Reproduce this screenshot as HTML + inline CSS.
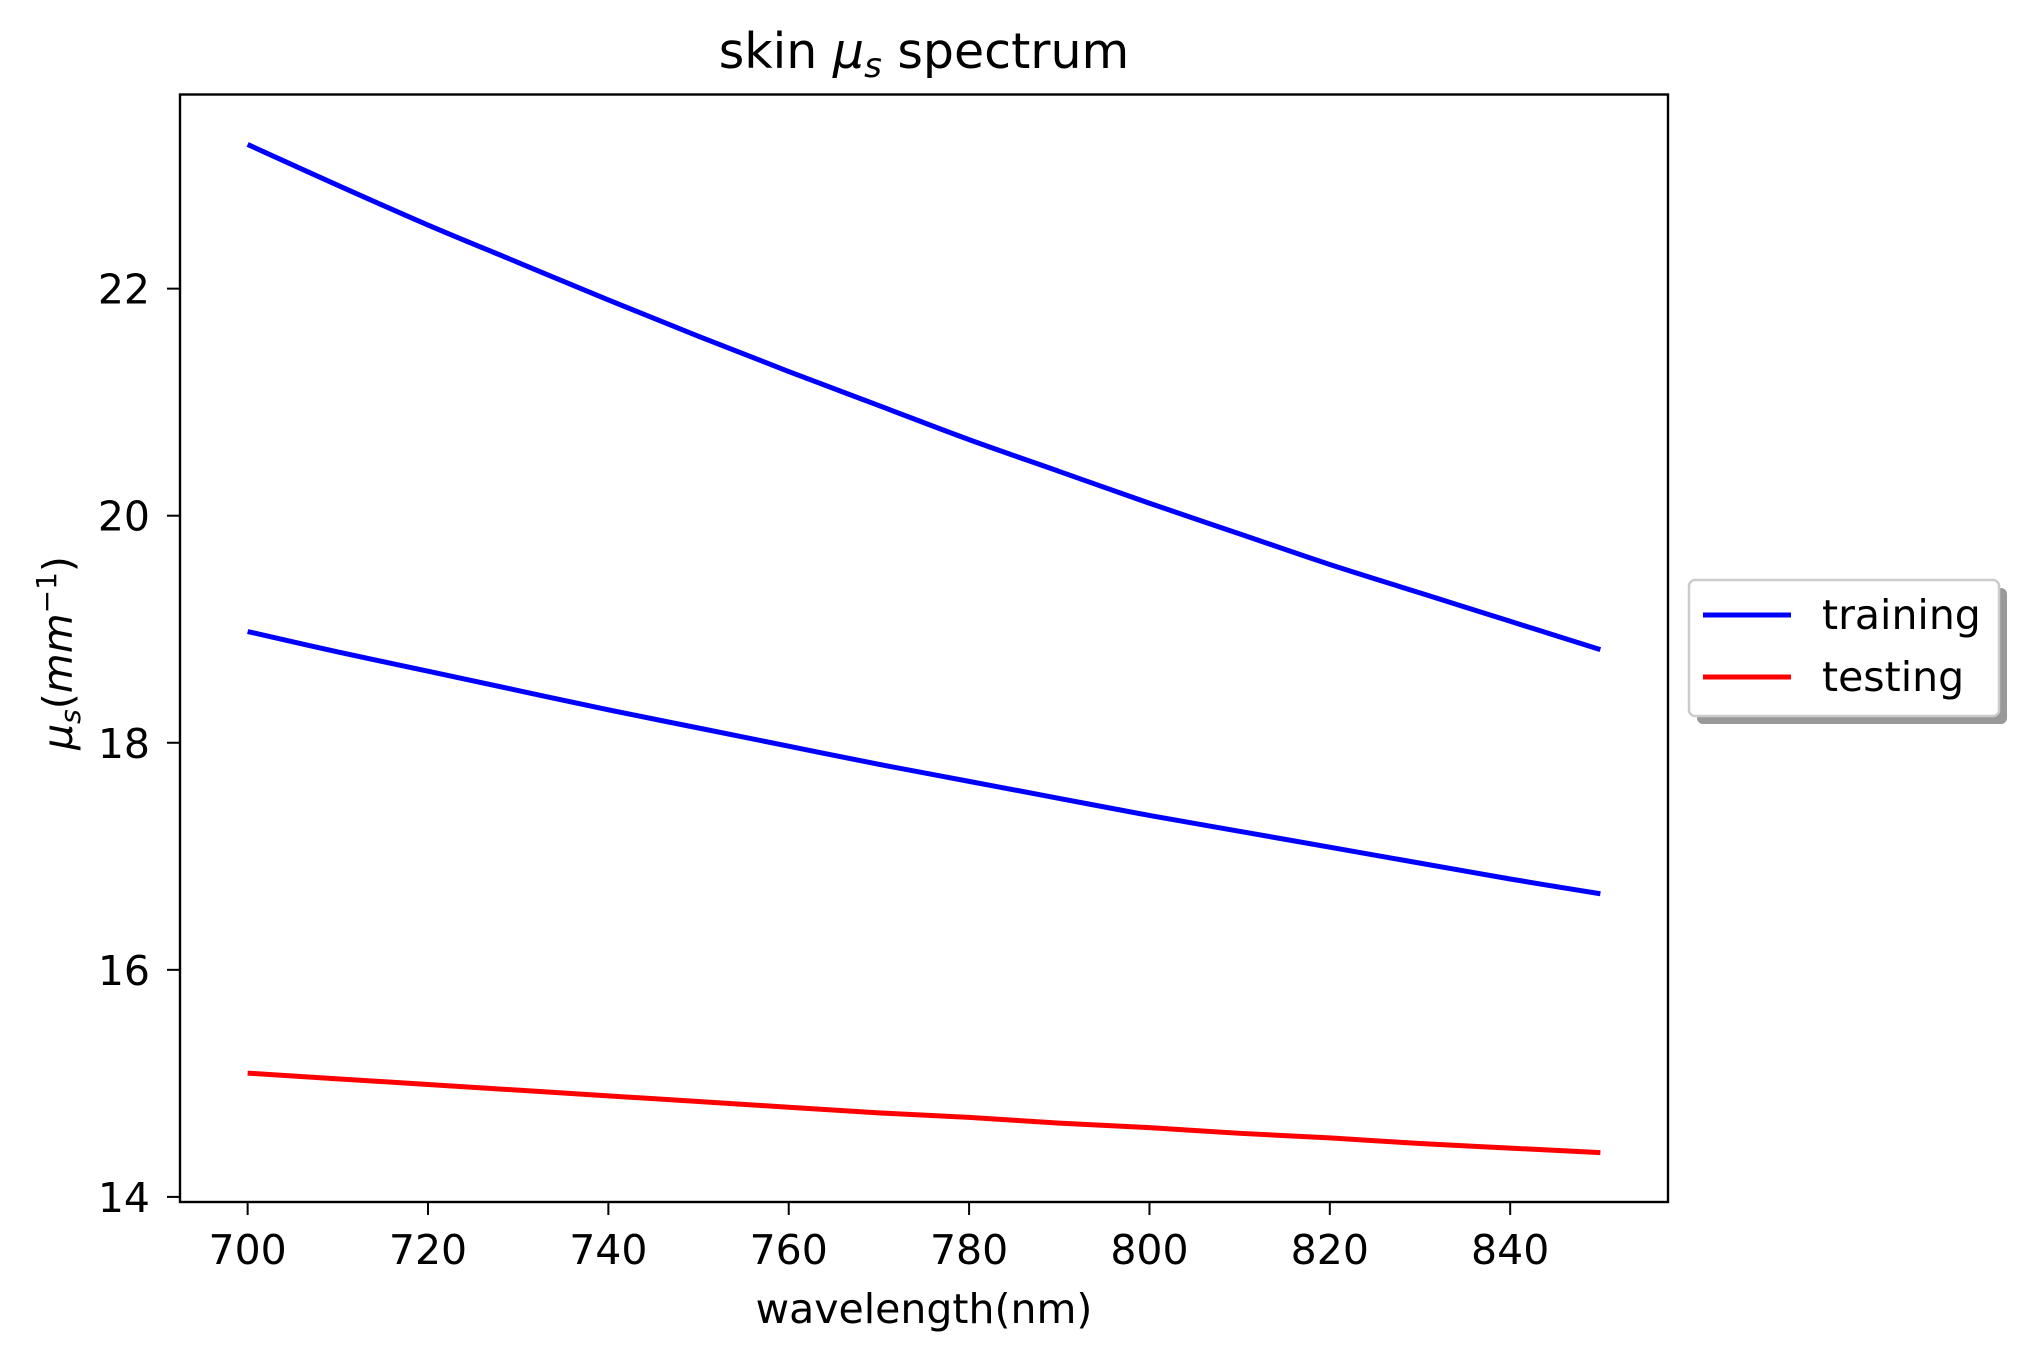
<!DOCTYPE html>
<html><head><meta charset="utf-8"><style>
html,body{margin:0;padding:0;background:#fff;}
svg{display:block;font-family:"DejaVu Sans","Liberation Sans",sans-serif;}
</style></head><body>
<svg id="chart" width="2029" height="1363" viewBox="0 0 2029 1363" xmlns="http://www.w3.org/2000/svg">
<rect width="2029" height="1363" fill="#fff"/>
<text x="924" y="68" font-size="49" text-anchor="middle">skin <tspan font-style="italic">μ</tspan><tspan font-style="italic" font-size="34" dy="9">s</tspan><tspan dy="-9"> spectrum</tspan></text>
<g id="plot"></g>
<rect x="180" y="94.5" width="1488" height="1107.5" fill="none" stroke="#000" stroke-width="2.4"/>
<text x="924" y="1323" font-size="41" text-anchor="middle">wavelength(nm)</text>
<text transform="translate(72,653) rotate(-90)" font-size="41" text-anchor="middle"><tspan font-style="italic">μ</tspan><tspan font-style="italic" font-size="28" dy="8">s</tspan><tspan dy="-8">(</tspan><tspan font-style="italic">mm</tspan><tspan font-size="28" dy="-16">−1</tspan><tspan dy="16">)</tspan></text>
<g>
<rect x="1697" y="588" width="310" height="136" rx="6" fill="#999"/>
<rect x="1689" y="580" width="310" height="136" rx="6" fill="#fff" stroke="#ccc" stroke-width="2.5"/>
<line x1="1703" y1="615" x2="1791" y2="615" stroke="#0000ff" stroke-width="5"/>
<text x="1822" y="629" font-size="41">training</text>
<line x1="1703" y1="677" x2="1791" y2="677" stroke="#ff0000" stroke-width="5"/>
<text x="1822" y="691" font-size="41">testing</text>
</g>
</svg>
<script>
const wavelengths = [700,710,720,730,740,750,760,770,780,790,800,810,820,830,840,850];
const trainingHigh = [23.27,22.91,22.56,22.23,21.90,21.58,21.27,20.97,20.67,20.39,20.11,19.84,19.57,19.32,19.07,18.82];
const trainingLow = [18.98,18.80,18.63,18.46,18.29,18.13,17.97,17.81,17.66,17.51,17.36,17.22,17.08,16.94,16.80,16.67];
const testing = [15.09,15.04,14.99,14.94,14.89,14.84,14.79,14.74,14.70,14.65,14.61,14.56,14.52,14.47,14.43,14.39];
const xTicks = [700,720,740,760,780,800,820,840];
const yTicks = [14,16,18,20,22];

const NS = "http://www.w3.org/2000/svg";
const L=180,R=1668,T=94.5,B=1202;
const xMin=692.5,xMax=857.5,yMin=13.955,yMax=23.71;
function sx(v){return L+(v-xMin)/(xMax-xMin)*(R-L);}
function sy(v){return B-(v-yMin)/(yMax-yMin)*(B-T);}
const g=document.getElementById('plot');
function mk(tag,attrs){const e=document.createElementNS(NS,tag);for(const k in attrs)e.setAttribute(k,attrs[k]);g.appendChild(e);return e;}

xTicks.forEach(t=>{
  const l=mk('line',{x1:sx(t),x2:sx(t),y1:B,y2:B+13,stroke:'#000','stroke-width':2});
  
  
  const tx=mk('text',{x:sx(t),y:B+62,'font-size':41,'text-anchor':'middle'});
  tx.textContent=t;
  
  
});
yTicks.forEach(t=>{
  const l=mk('line',{x1:L-13,x2:L,y1:sy(t),y2:sy(t),stroke:'#000','stroke-width':2});
  
  
  const tx=mk('text',{x:L-30,y:sy(t)+15,'font-size':41,'text-anchor':'end'});
  tx.textContent=t;
  
  
});
function series(vals,color,name){
  const P=wavelengths.map((w,i)=>[sx(w),sy(vals[i])]);
  let d='M'+P[0][0]+','+P[0][1];
  for(let i=0;i<P.length-1;i++){
    const p0=P[Math.max(0,i-1)],p1=P[i],p2=P[i+1],p3=P[Math.min(P.length-1,i+2)];
    const c1=[p1[0]+(p2[0]-p0[0])/6,p1[1]+(p2[1]-p0[1])/6];
    const c2=[p2[0]-(p3[0]-p1[0])/6,p2[1]-(p3[1]-p1[1])/6];
    d+=' C'+c1[0]+','+c1[1]+' '+c2[0]+','+c2[1]+' '+p2[0]+','+p2[1];
  }
  const p=mk('path',{d:d,fill:'none',stroke:color,'stroke-width':5});
  
  
}
series(trainingHigh,'#0000ff','training-line-high');
series(trainingLow,'#0000ff','training-line-low');
series(testing,'#ff0000','testing-line');
</script>
</body></html>
